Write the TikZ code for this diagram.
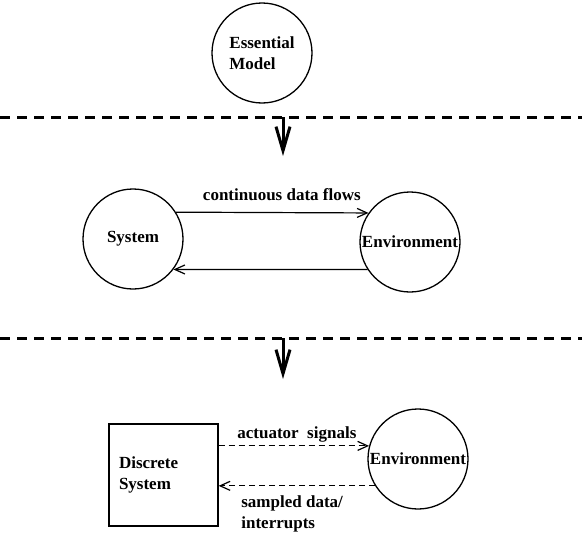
\documentclass[tikz,border=0pt]{standalone}
\usepackage{fontspec}
\setmainfont{Liberation Serif}
\usetikzlibrary{arrows.meta}

\begin{document}
\begin{tikzpicture}[x=1pt, y=-1pt,
    every node/.style={font=\fontsize{17}{21}\selectfont\bfseries},
    bubble/.style={draw, circle, line width=1.3pt, minimum size=100pt, inner sep=0pt},
    layer/.style={line width=3pt, dash pattern=on 10pt off 7pt},
    refine/.style={line width=3pt, -{Straight Barb[length=24pt,width=14pt]}},
    flow/.style={line width=1.2pt, -{Straight Barb[length=10pt,width=9pt]}},
    signal/.style={flow, dash pattern=on 6pt off 4pt}]
  \useasboundingbox (0,0) rectangle (582,533);

  % top level
  \node[bubble, align=left] (model) at (262,53) {Essential\\Model};

  \coordinate (left1) at (0,117);
  \coordinate (right1) at (582,117);
  \coordinate (cut1) at (283,117);
  \coordinate (tip1) at (283,156);
  \draw[layer] (left1) -- (right1);
  \draw[refine] (cut1) -- (tip1);

  % continuous level
  \node[bubble] (sys) at (133,239) {System};
  \node[bubble] (env) at (410,242) {Environment};

  \draw[flow] (sys.32) -- node[above=8pt, pos=0.55] (flowlabel) {continuous data flows} (env.145);
  \draw[flow] (env.213) -- (sys.-37);

  \coordinate (left2) at (0,338);
  \coordinate (right2) at (582,338);
  \coordinate (cut2) at (283,338);
  \coordinate (tip2) at (283,379);
  \draw[layer] (left2) -- (right2);
  \draw[refine] (cut2) -- (tip2);

  % discrete level
  \node[draw, line width=1.3pt, minimum width=109pt, minimum height=102pt,
        text width=89pt, inner sep=10pt, align=left] (dsys) at (163.5,475) {Discrete\\System};
  \node[bubble] (denv) at (418,459) {Environment};

  \draw[signal] (dsys.east |- denv.165) -- node[above, pos=0.52] (actlabel) {actuator\ \ signals} (denv.165);
  \draw[signal] (denv.212) -- node[below=6pt, pos=0.53, align=left] (samplabel) {sampled data/\\interrupts} (denv.212 -| dsys.east);
\end{tikzpicture}
\end{document}
